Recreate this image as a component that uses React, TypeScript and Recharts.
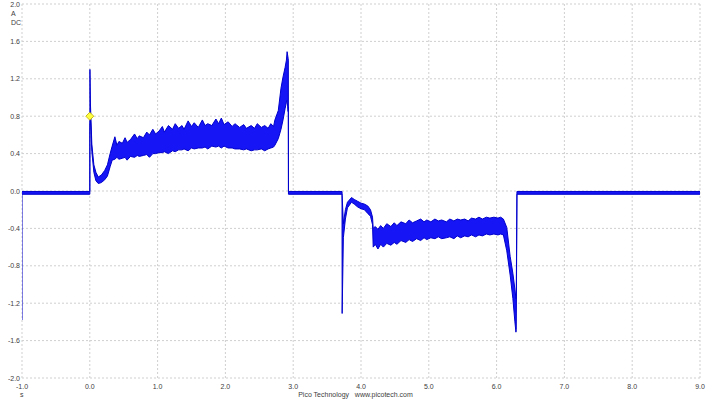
import React from 'react';
import { ComposedChart, Area, XAxis, YAxis, CartesianGrid, ReferenceDot } from 'recharts';

// Time (s)
const times = [
  -1.0, -1.0, 0.0,
  0.0, 0.002, 0.01, 0.03, 0.06, 0.09, 0.125, 0.17, 0.22, 0.26, 0.3, 0.33, 0.37,
  0.4, 0.43, 0.48, 0.52, 0.55, 0.6, 0.66, 0.7, 0.73, 0.79, 0.84, 0.88, 0.93, 0.97,
  1.02, 1.07, 1.1, 1.16, 1.22, 1.26, 1.31, 1.36, 1.39, 1.45, 1.5, 1.54, 1.6, 1.66,
  1.7, 1.74, 1.8, 1.86, 1.9, 1.94, 1.98, 2.04, 2.1, 2.14, 2.21, 2.27, 2.31, 2.38,
  2.43, 2.47, 2.53, 2.58, 2.63, 2.67, 2.71,
  2.73, 2.78, 2.82, 2.85, 2.88, 2.9, 2.91, 2.925, 2.928,
  2.93, 3.72,
  3.722, 3.74, 3.77, 3.8, 3.86, 3.9, 3.95, 4.0, 4.05, 4.1, 4.14, 4.17,
  4.18, 4.21, 4.25, 4.29, 4.33, 4.38, 4.44, 4.49, 4.53, 4.59, 4.66, 4.71, 4.76,
  4.82, 4.88, 4.93, 4.97, 5.03, 5.09, 5.14, 5.19, 5.26, 5.31, 5.37, 5.42, 5.47,
  5.53, 5.58, 5.63, 5.69, 5.74, 5.79, 5.85, 5.9, 5.96, 6.02, 6.06, 6.1,
  6.15, 6.2, 6.24, 6.27, 6.285, 6.29,
  6.3, 9.0,
];

// Lower edge of the trace (A)
const lows = [
  -1.38, -0.035, -0.035,
  -0.035, 0.7, 0.78, 0.42, 0.2, 0.11, 0.08, 0.09, 0.12, 0.16, 0.26, 0.33, 0.34,
  0.36, 0.34, 0.35, 0.36, 0.33, 0.37, 0.36, 0.38, 0.37, 0.38, 0.39, 0.36, 0.4, 0.4,
  0.41, 0.41, 0.42, 0.4, 0.43, 0.42, 0.44, 0.44, 0.45, 0.43, 0.46, 0.45, 0.46, 0.46,
  0.47, 0.45, 0.48, 0.47, 0.48, 0.46, 0.48, 0.46, 0.46, 0.45, 0.45, 0.44, 0.45, 0.43,
  0.44, 0.44, 0.45, 0.43, 0.45, 0.46, 0.47,
  0.49, 0.56, 0.66, 0.76, 0.88, 0.95, 0.97, 0.85, 0.9,
  -0.035, -0.035,
  -1.31, -0.5, -0.3, -0.18, -0.12, -0.14, -0.17, -0.19, -0.2, -0.24, -0.27, -0.36,
  -0.6, -0.57, -0.62, -0.57, -0.6, -0.56, -0.58, -0.55, -0.57, -0.53, -0.55, -0.52, -0.54,
  -0.51, -0.53, -0.5, -0.52, -0.5, -0.51, -0.49, -0.51, -0.5, -0.49, -0.51, -0.48, -0.5,
  -0.48, -0.49, -0.47, -0.49, -0.47, -0.48, -0.46, -0.47, -0.46, -0.47, -0.46, -0.47,
  -0.64, -0.9, -1.15, -1.4, -1.51, -1.48,
  -0.035, -0.035,
];

// Upper edge of the trace (A)
const highs = [
  -0.005, -0.005, -0.005,
  -0.005, 1.3, 0.92, 0.5, 0.28, 0.2, 0.15, 0.17, 0.22, 0.28, 0.4, 0.48, 0.58,
  0.49, 0.53, 0.51, 0.57, 0.52, 0.55, 0.61, 0.56, 0.59, 0.57, 0.63, 0.6, 0.66, 0.61,
  0.64, 0.69, 0.63, 0.7, 0.66, 0.72, 0.67, 0.7, 0.66, 0.75, 0.69, 0.73, 0.68, 0.76,
  0.7, 0.72, 0.7, 0.77, 0.72, 0.78, 0.71, 0.74, 0.69, 0.72, 0.68, 0.71, 0.67, 0.7,
  0.67, 0.72, 0.68, 0.7, 0.67, 0.72, 0.69,
  0.76, 0.86, 1.1, 1.22, 1.32, 1.4, 1.49, 1.42, 1.4,
  -0.005, -0.005,
  -0.05, -0.35, -0.2, -0.12, -0.07, -0.09, -0.11, -0.13, -0.14, -0.16, -0.2, -0.28,
  -0.4, -0.38, -0.41, -0.37, -0.4, -0.35, -0.38, -0.34, -0.37, -0.33, -0.35, -0.31, -0.34,
  -0.32, -0.3, -0.33, -0.31, -0.33, -0.3, -0.32, -0.31, -0.33, -0.3, -0.32, -0.3, -0.31,
  -0.3, -0.32, -0.29, -0.3, -0.28, -0.3, -0.28, -0.29, -0.28, -0.29, -0.28, -0.3,
  -0.39, -0.7, -0.88, -1.05, -1.15, -1.1,
  -0.005, -0.005,
];

const xTicks = [-1, 0, 1, 2, 3, 4, 5, 6, 7, 8, 9];
const yTicks = [-2, -1.6, -1.2, -0.8, -0.4, 0, 0.4, 0.8, 1.2, 1.6, 2];

const markerT = 0.0;
const markerV = 0.8;

const data = times.map((t, i) => ({ t, range: [lows[i], highs[i]] }));

const FONT = '"Liberation Sans", Arial, sans-serif';
const TXT = '#404040';

const XTick = (props: any) => {
  const { x, payload } = props;
  return (
    <text x={x} y={389} textAnchor="middle" fontSize={7} fontFamily={FONT} fill={TXT}>
      {Number(payload.value).toFixed(1)}
    </text>
  );
};

const YTick = (props: any) => {
  const { y, payload } = props;
  return (
    <text x={20} y={y} dy={2.5} textAnchor="end" fontSize={7} fontFamily={FONT} fill={TXT}>
      {Number(payload.value).toFixed(1)}
    </text>
  );
};

const Diamond = (props: any) => {
  const { cx, cy } = props;
  const r = 4;
  return (
    <polygon
      points={`${cx},${cy - r} ${cx + r},${cy} ${cx},${cy + r} ${cx - r},${cy}`}
      fill="#ffff40"
      stroke="#b8a800"
      strokeWidth={0.8}
    />
  );
};

export default function App() {
  return (
    <div style={{ position: 'absolute', left: 0, top: 0, width: 711, height: 400, background: '#fff' }}>
      <ComposedChart width={711} height={400} data={data} margin={{ top: 4, right: 11, bottom: 0, left: 0 }}>
        <CartesianGrid stroke="#cfcfcf" strokeDasharray="2 2" horizontal vertical />
        <XAxis
          dataKey="t"
          type="number"
          domain={[-1, 9]}
          ticks={xTicks}
          interval={0}
          height={22}
          axisLine={false}
          tickLine={false}
          tick={<XTick />}
          allowDataOverflow
        />
        <YAxis
          type="number"
          domain={[-2, 2]}
          ticks={yTicks}
          interval={0}
          width={22}
          axisLine={false}
          tickLine={false}
          tick={<YTick />}
          allowDataOverflow
        />
        <Area
          type="linear"
          dataKey="range"
          stroke="#0000cc"
          strokeWidth={1}
          fill="#1515f5"
          fillOpacity={1}
          dot={false}
          activeDot={false}
          isAnimationActive={false}
        />
        <ReferenceDot x={markerT} y={markerV} r={4} shape={<Diamond />} />
      </ComposedChart>
      <div style={{ position: 'absolute', left: 11, top: 9, fontSize: 7, fontFamily: FONT, color: TXT, lineHeight: '9px' }}>
        A<br />DC
      </div>
      <div style={{ position: 'absolute', left: 20, top: 391, fontSize: 7, fontFamily: FONT, color: TXT }}>s</div>
      <div style={{ position: 'absolute', left: 0, width: 711, top: 391, textAlign: 'center', fontSize: 7, fontFamily: FONT, color: TXT, whiteSpace: 'pre' }}>
        {'Pico Technology   www.picotech.com'}
      </div>
    </div>
  );
}
